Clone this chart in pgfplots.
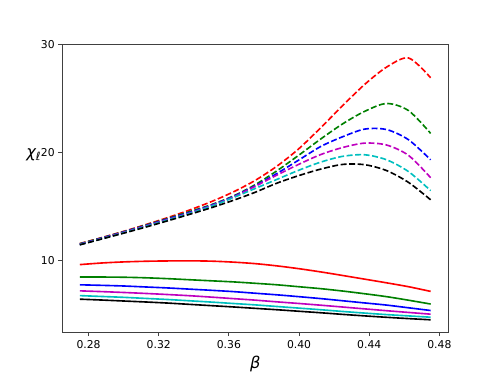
\documentclass[border=0pt]{standalone}
\usepackage{pgfplots}
\pgfplotsset{compat=1.18}
\usepackage{pgfplotstable}
\usepackage{fontspec}
\setmainfont{DejaVu Sans}

\definecolor{mplgreen}{rgb}{0,0.5,0}
\definecolor{mplmag}{rgb}{0.75,0,0.75}
\definecolor{mplcyan}{rgb}{0,0.75,0.75}
\definecolor{spine}{rgb}{0.25,0.25,0.25}

% dashed curves (upper family)
\pgfplotstableread{
beta    r      g      b      m      c      k
0.275   11.60  11.58  11.55  11.52  11.50  11.48
0.2875  12.15  12.13  12.10  12.07  12.04  12.02
0.3     12.73  12.70  12.67  12.64  12.60  12.56
0.3125  13.35  13.30  13.26  13.22  13.18  13.12
0.325   14.00  13.92  13.87  13.82  13.77  13.70
0.3375  14.70  14.55  14.48  14.42  14.38  14.30
0.35    15.48  15.20  15.15  15.10  15.05  14.92
0.3625  16.38  16.00  15.95  15.90  15.85  15.60
0.375   17.45  17.05  16.95  16.90  16.70  16.35
0.3875  18.78  18.35  18.10  17.95  17.55  17.20
0.4     20.40  19.80  19.35  18.95  18.40  17.90
0.4125  22.35  21.30  20.60  19.85  19.15  18.50
0.425   24.40  22.70  21.50  20.50  19.68  18.93
0.4375  26.35  23.85  22.20  20.90  19.82  18.90
0.45    27.95  24.57  22.15  20.72  19.35  18.35
0.4625  28.78  23.90  21.20  19.75  18.25  17.25
0.475   26.95  21.80  19.35  17.70  16.50  15.65
}\dashed

% solid curves (lower family)
\pgfplotstableread{
beta    r      g      b      m      c      k
0.275   9.65   8.50   7.78   7.22   6.78   6.45
0.2875  9.80   8.50   7.73   7.15   6.70   6.37
0.3     9.90   8.48   7.67   7.07   6.62   6.28
0.3125  9.96   8.43   7.58   6.98   6.52   6.19
0.325   9.99   8.35   7.49   6.88   6.42   6.09
0.3375  10.00  8.25   7.38   6.77   6.30   5.97
0.35    9.97   8.15   7.27   6.64   6.18   5.85
0.3625  9.88   8.05   7.15   6.50   6.05   5.73
0.375   9.74   7.92   7.00   6.36   5.92   5.60
0.3875  9.53   7.78   6.85   6.20   5.77   5.47
0.4     9.27   7.60   6.68   6.05   5.62   5.33
0.4125  8.97   7.42   6.50   5.89   5.47   5.19
0.425   8.64   7.20   6.30   5.72   5.31   5.04
0.4375  8.30   6.95   6.10   5.55   5.16   4.90
0.45    7.96   6.68   5.90   5.38   5.02   4.77
0.4625  7.60   6.35   5.65   5.22   4.90   4.65
0.475   7.17   6.00   5.40   5.06   4.78   4.54
}\solid

\begin{document}
\begin{tikzpicture}
\useasboundingbox (-57.6pt,-38pt) rectangle ++(460.8pt,345.6pt);
\begin{axis}[
    scale only axis,
    width=357.1pt, height=266.1pt,
    xmin=0.265, xmax=0.485,
    ymin=3.37, ymax=30,
    xtick={0.28,0.32,0.36,0.40,0.44,0.48},
    ytick={10,20,30},
    xticklabel style={/pgf/number format/.cd,fixed,fixed zerofill,precision=2},
    /pgf/number format/assume math mode=true,
    tick align=outside, tick pos=left,
    major tick length=3.5pt,
    axis line style={spine, line width=0.8pt},
    every tick/.style={spine, line width=0.8pt},
    ticklabel style={font=\fontsize{10}{12}\selectfont},
    every axis x label/.style={at={(rel axis cs:0.5,0)}, anchor=north, yshift=-18pt},
    every axis y label/.style={at={(rel axis cs:0,0.617)}, anchor=east, xshift=-16.5pt},
    xlabel={\fontsize{15}{18}\selectfont\itshape β},
    ylabel={\fontsize{15}{18}\selectfont\itshape χ\raisebox{-0.35ex}{\fontsize{10.5}{12}\selectfont ℓ}},
    every axis plot/.append style={line width=1.5pt, smooth},
    dashstyle/.style={dash pattern=on 5.5pt off 2.4pt},
]
\addplot[red, dashstyle]       table[x=beta, y=r] {\dashed};
\addplot[mplgreen, dashstyle]  table[x=beta, y=g] {\dashed};
\addplot[blue, dashstyle]      table[x=beta, y=b] {\dashed};
\addplot[mplmag, dashstyle]    table[x=beta, y=m] {\dashed};
\addplot[mplcyan, dashstyle]   table[x=beta, y=c] {\dashed};
\addplot[black, dashstyle]     table[x=beta, y=k] {\dashed};
\addplot[red]      table[x=beta, y=r] {\solid};
\addplot[mplgreen] table[x=beta, y=g] {\solid};
\addplot[blue]     table[x=beta, y=b] {\solid};
\addplot[mplmag]   table[x=beta, y=m] {\solid};
\addplot[mplcyan]  table[x=beta, y=c] {\solid};
\addplot[black]    table[x=beta, y=k] {\solid};
\end{axis}
\end{tikzpicture}
\end{document}
